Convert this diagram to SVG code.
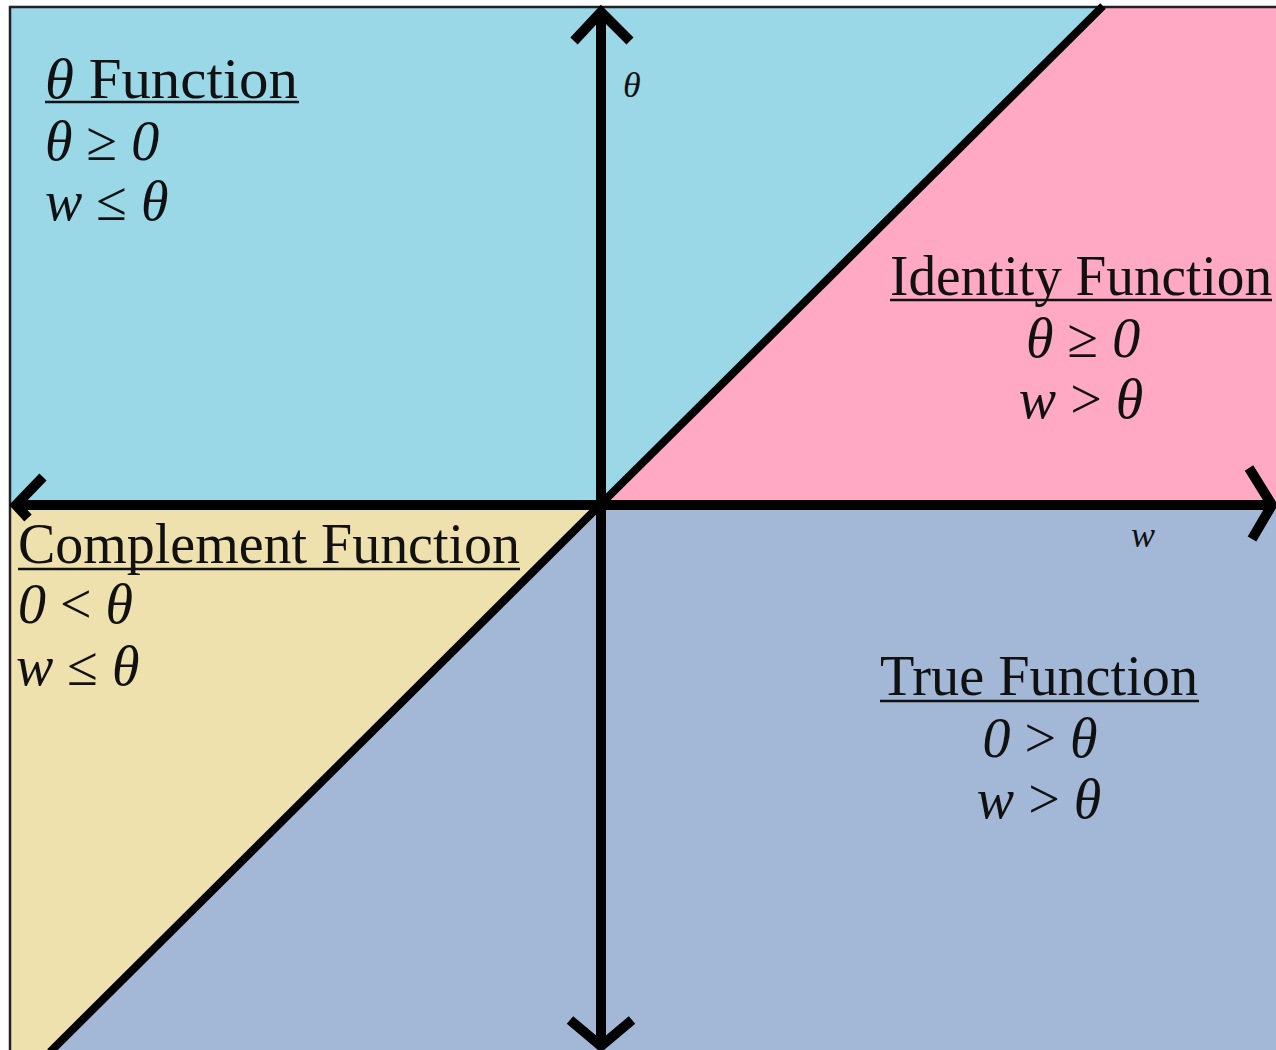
<svg xmlns="http://www.w3.org/2000/svg" width="1276" height="1050" viewBox="0 0 1276 1050">
<style>
.hd{font-family:"Liberation Serif","Times New Roman",serif;font-size:56px;fill:#111}
.mt{font-family:"Liberation Serif","Times New Roman",serif;font-size:56px;fill:#111}
.it{font-style:italic}
.ul{stroke:#111;stroke-width:2.5}
.ax{fill:none;stroke:#000;stroke-width:10;stroke-linejoin:miter}
.dg{fill:none;stroke:#000;stroke-width:8}
.lb{font-family:"Liberation Serif","Times New Roman",serif;font-size:36px;font-style:italic;fill:#111}
</style>
<rect x="0" y="0" width="1276" height="1050" fill="#ffffff"/>
<g id="theta-region">
<polygon points="10,7 1103,7 600,505 10,505" fill="#9AD8E8"/>
<text class="hd" x="45" y="98" textLength="253" lengthAdjust="spacingAndGlyphs"><tspan class="it">θ</tspan>  Function</text>
<line class="ul" x1="45" y1="102" x2="299" y2="102"/>
<text class="mt" x="45" y="160"><tspan class="it">θ</tspan> ≥ <tspan class="it">0</tspan></text>
<text class="mt" x="45" y="220"><tspan class="it">w</tspan> ≤ <tspan class="it">θ</tspan></text>
</g>
<g id="identity-region">
<polygon points="600,505 1103,7 1276,7 1276,505" fill="#FFA9C4"/>
<text class="hd" x="890" y="295" textLength="382" lengthAdjust="spacingAndGlyphs">Identity Function</text>
<line class="ul" x1="890" y1="300" x2="1272" y2="300"/>
<text class="mt" x="1083" y="357" text-anchor="middle"><tspan class="it">θ</tspan> ≥ <tspan class="it">0</tspan></text>
<text class="mt" x="1081" y="418" text-anchor="middle"><tspan class="it">w</tspan> &gt; <tspan class="it">θ</tspan></text>
</g>
<g id="complement-region">
<polygon points="10,505 600,505 52,1050 10,1050" fill="#EFE1AE"/>
<text class="hd" x="18" y="563" textLength="502" lengthAdjust="spacingAndGlyphs">Complement Function</text>
<line class="ul" x1="18" y1="569" x2="520" y2="569"/>
<text class="mt" x="18" y="623"><tspan class="it">0</tspan> &lt; <tspan class="it">θ</tspan></text>
<text class="mt" x="16" y="685"><tspan class="it">w</tspan> ≤ <tspan class="it">θ</tspan></text>
</g>
<g id="true-region">
<polygon points="600,505 1276,505 1276,1050 52,1050" fill="#A3B7D7"/>
<text class="hd" x="880" y="695" textLength="318" lengthAdjust="spacingAndGlyphs">True Function</text>
<line class="ul" x1="880" y1="701" x2="1199" y2="701"/>
<text class="mt" x="1040" y="757" text-anchor="middle"><tspan class="it">0</tspan> &gt; <tspan class="it">θ</tspan></text>
<text class="mt" x="1039" y="818" text-anchor="middle"><tspan class="it">w</tspan> &gt; <tspan class="it">θ</tspan></text>
</g>
<g id="frame">
<polyline points="10,1050 10,7 1276,7" fill="none" stroke="#222" stroke-width="2.5"/>
</g>
<g id="connectors">
<line class="dg" x1="600" y1="505" x2="1103" y2="6"/>
<line class="dg" x1="600" y1="505" x2="50" y2="1052"/>
<line class="ax" x1="14" y1="505" x2="1274" y2="505"/>
<line class="ax" x1="601" y1="12" x2="601" y2="1046"/>
<polyline class="ax" points="574,41 601,12 630,41"/>
<polyline class="ax" points="570,1020 601,1046 632,1020"/>
<polyline class="ax" points="43,477 16,505 28,518"/>
<polyline class="ax" points="1249,468 1272,505 1252,539"/>
</g>
<g id="axis-labels">
<text class="lb" x="623" y="97">θ</text>
<text class="lb" x="1131" y="547">w</text>
</g>
</svg>
